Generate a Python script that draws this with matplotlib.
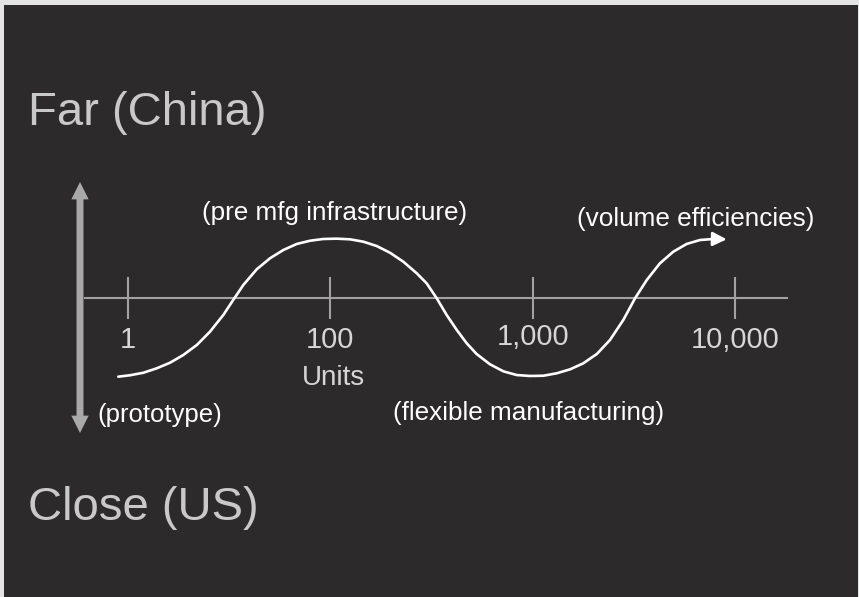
import matplotlib
matplotlib.use("Agg")
import matplotlib.pyplot as plt
from matplotlib.patches import FancyArrowPatch

plt.rcParams['font.family'] = ['Liberation Sans', 'DejaVu Sans']

# ---- data ----
tick_labels = ["1", "100", "1,000", "10,000"]
tick_positions = [0, 1, 2, 3]
axis_title = "Units"
top_label = "Far (China)"
bottom_label = "Close (US)"
phase_labels = ["(prototype)", "(pre mfg infrastructure)",
                "(flexible manufacturing)", "(volume efficiencies)"]

# curve: x in tick-index units, y = distance (+ far, - close)
curve_x = [-0.048, 0.010, 0.076, 0.142, 0.208, 0.273, 0.340, 0.405, 0.471, 0.520,
           0.570, 0.636, 0.702, 0.768, 0.834, 0.900, 0.965, 1.031, 1.097, 1.163,
           1.229, 1.295, 1.361, 1.427, 1.476, 1.526, 1.575, 1.625, 1.674, 1.723,
           1.789, 1.855, 1.921, 1.987, 2.053, 2.119, 2.185, 2.250, 2.317, 2.382,
           2.448, 2.506, 2.564, 2.629, 2.695, 2.761, 2.827, 2.893, 2.959]
curve_y = [-0.996, -0.978, -0.946, -0.890, -0.819, -0.722, -0.595, -0.427, -0.215, -0.025,
           0.165, 0.363, 0.503, 0.608, 0.684, 0.725, 0.747, 0.751, 0.743, 0.713,
           0.658, 0.573, 0.459, 0.313, 0.186, -0.004, -0.215, -0.405, -0.573, -0.709,
           -0.839, -0.928, -0.975, -0.987, -0.984, -0.953, -0.903, -0.827, -0.709, -0.532,
           -0.278, -0.004, 0.228, 0.439, 0.586, 0.684, 0.734, 0.747, 0.743]

BG = "#2c2a2b"
FRAME = "#e4e4e4"
AXIS_C = "#a2a2a2"

W, H = 859, 597
fig = plt.figure(figsize=(W / 100, H / 100), dpi=100, facecolor=FRAME)
ax = fig.add_axes([4 / W, 0, 854 / W, 592 / H])
ax.set_facecolor(BG)
ax.set_axis_off()

# mapping: tick index 0 -> px 128, 202.33 px per index; y=0 at px 298, 79 px per unit
sx, x0 = 202.33, 128
sy, y0 = 79.0, 298
ax.set_xlim((4 - x0) / sx, (858 - x0) / sx)
ax.set_ylim(-(597 - y0) / sy, (y0 - 5) / sy)
ax.add_patch(plt.Rectangle((0, 0), 1, 1, transform=ax.transAxes, color=BG, zorder=0))


def fig_px(x, y):
    return x / W, 1 - y / H


# horizontal axis line and ticks
ax.plot([(85 - x0) / sx, (787 - x0) / sx], [0, 0], color=AXIS_C, lw=1.5, zorder=2)
for p in tick_positions:
    ax.plot([p, p], [-0.25, 0.25], color=AXIS_C, lw=1.5, zorder=2)

# tick labels
for p, lab in zip(tick_positions, tick_labels):
    fx, _ = fig_px(x0 + sx * p, 0)
    yb = 345 if lab == "1,000" else 348
    fig.text(fx, 1 - yb / H, lab, ha="center", va="baseline",
             fontsize=21, color="#d6d6d6")
fig.text(*fig_px(333, 385), axis_title, ha="center", va="baseline",
         fontsize=20, color="#d6d6d6")

# vertical double arrow
xa = (80 - x0) / sx
ymid = 0.0
for yend in [(298 - 182) / sy, (298 - 433) / sy]:
    arr = FancyArrowPatch((xa, ymid), (xa, yend),
                          arrowstyle="simple,head_length=12.5,head_width=12.5,tail_width=5",
                          mutation_scale=1, color="#a9a9a9", lw=0,
                          shrinkA=0, shrinkB=0, zorder=3)
    ax.add_patch(arr)

# curve
ax.plot(curve_x[:-1], curve_y[:-1], color="white", lw=1.9, solid_capstyle="round",
        solid_joinstyle="round", zorder=4)
ax.annotate("", xy=(curve_x[-1], curve_y[-1]), xytext=(curve_x[-2], curve_y[-2]),
            arrowprops=dict(arrowstyle="-|>,head_length=0.6,head_width=0.3",
                            color="white", lw=1.9, shrinkA=0, shrinkB=0,
                            mutation_scale=14), zorder=4)

# big labels
fig.text(*fig_px(28, 125), top_label, ha="left", va="baseline",
         fontsize=34, color="#c9c9c9")
fig.text(*fig_px(28, 520), bottom_label, ha="left", va="baseline",
         fontsize=34, color="#c9c9c9")

# phase labels
fig.text(*fig_px(97, 422), phase_labels[0], ha="left", va="baseline",
         fontsize=18.5, color="white")
fig.text(*fig_px(335, 220), phase_labels[1], ha="center", va="baseline",
         fontsize=18.8, color="white")
fig.text(*fig_px(529, 420), phase_labels[2], ha="center", va="baseline",
         fontsize=18.8, color="white")
fig.text(*fig_px(696, 226), phase_labels[3], ha="center", va="baseline",
         fontsize=18.8, color="white")

fig.savefig("out.png", dpi=100, facecolor=FRAME)
